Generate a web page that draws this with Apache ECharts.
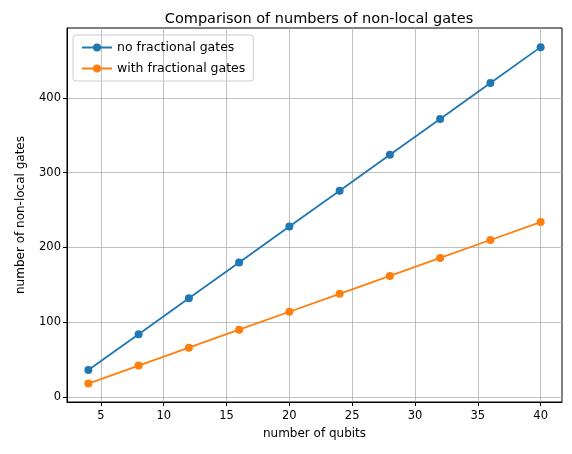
<!DOCTYPE html>
<html><head><meta charset="utf-8">
<script src="https://cdn.jsdelivr.net/npm/echarts@6/dist/echarts.min.js"></script>
<style>body{margin:0;background:#fff}#c{width:572px;height:454px}</style>
</head><body><div id="c"></div>
<script>
// 数据
const qubits = [4, 8, 12, 16, 20, 24, 28, 32, 36, 40];
const noFractional = [36, 84, 132, 180, 228, 276, 324, 372, 420, 468];
const withFractional = [18, 42, 66, 90, 114, 138, 162, 186, 210, 234];
const xTicks = [5, 10, 15, 20, 25, 30, 35, 40];
const yTicks = [0, 100, 200, 300, 400];

const font = 'DejaVu Sans';
const chart = echarts.init(document.getElementById('c'));

function lineSeries(name, values, color) {
    return {
        name: name, type: 'line',
        data: qubits.map((q, i) => [q, values[i]]),
        symbol: 'circle', symbolSize: 8,
        lineStyle: {color: color, width: 1.8},
        itemStyle: {color: color}
    };
}

const axisCommon = {
    axisLine: {onZero: false, lineStyle: {color: '#000'}},
    axisTick: {show: true, length: 4, inside: false, lineStyle: {color: '#000'}},
    axisLabel: {color: '#000', fontFamily: font, fontSize: 11.5},
    splitLine: {show: true, lineStyle: {color: '#b0b0b0', width: 0.8}},
    nameLocation: 'middle',
    nameTextStyle: {color: '#000', fontFamily: font, fontSize: 12}
};

chart.setOption({
    animation: false,
    title: {
        text: 'Comparison of numbers of non-local gates',
        left: 314, top: 7, textAlign: 'center',
        textStyle: {fontFamily: font, fontSize: 14.5, fontWeight: 'normal', color: '#000'}
    },
    legend: {
        left: 73, top: 35, orient: 'vertical', itemGap: 8,
        padding: [6, 8], borderColor: '#ccc', borderWidth: 1, borderRadius: 3,
        itemWidth: 30, itemHeight: 10,
        textStyle: {fontFamily: font, fontSize: 12.5, color: '#000'},
        data: ['no fractional gates', 'with fractional gates']
    },
    grid: {left: 67, right: 10, top: 28, bottom: 52, show: true, borderColor: '#000', borderWidth: 1},
    xAxis: Object.assign({}, axisCommon, {
        type: 'value', min: 2.3, max: 41.7,
        name: 'number of qubits', nameGap: 26,
        axisTick: Object.assign({}, axisCommon.axisTick, {customValues: xTicks}),
        axisLabel: Object.assign({}, axisCommon.axisLabel, {customValues: xTicks, margin: 8})
    }),
    yAxis: Object.assign({}, axisCommon, {
        type: 'value', min: -6.7, max: 493.6,
        name: 'number of non-local gates', nameGap: 40,
        axisTick: Object.assign({}, axisCommon.axisTick, {customValues: yTicks}),
        axisLabel: Object.assign({}, axisCommon.axisLabel, {customValues: yTicks, margin: 6})
    }),
    series: [
        lineSeries('no fractional gates', noFractional, '#1f77b4'),
        lineSeries('with fractional gates', withFractional, '#ff7f0e')
    ]
});
</script></body></html>
